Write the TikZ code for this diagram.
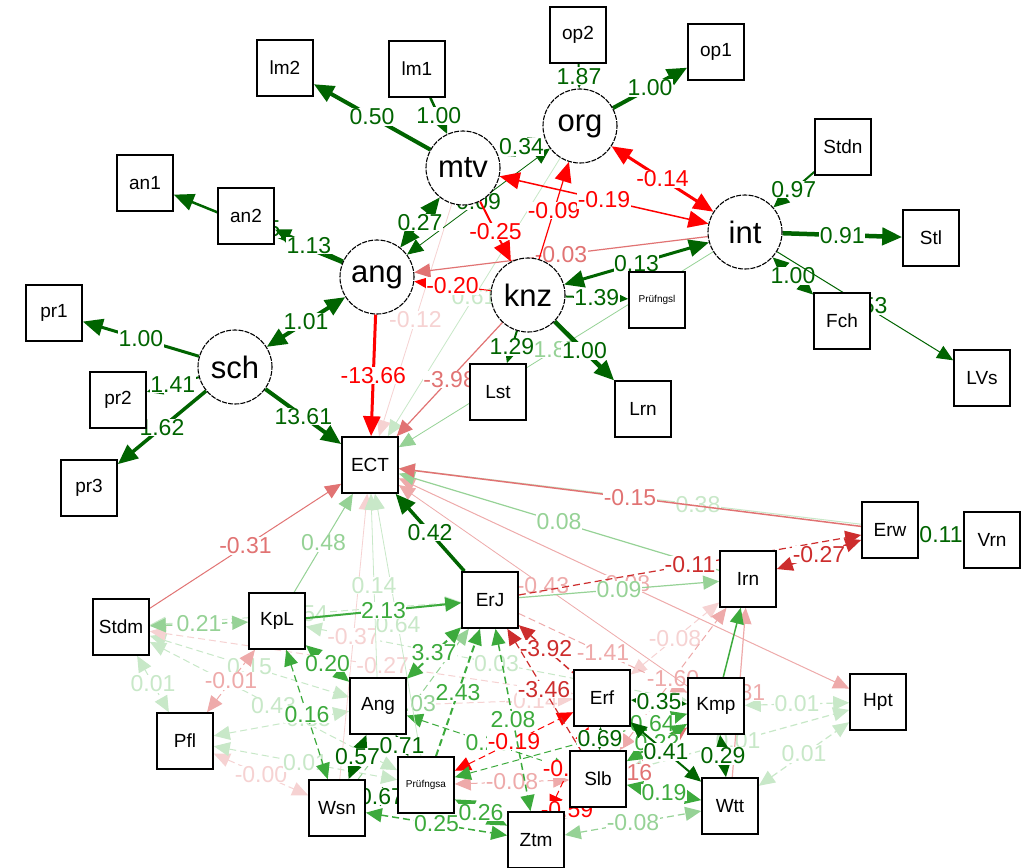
\documentclass[tikz,border=0pt]{standalone}
\usepackage{fontspec}
\setmainfont{Liberation Sans}
\usetikzlibrary{arrows.meta}
\pgfdeclarelayer{back}
\pgfdeclarelayer{edges}
\pgfsetlayers{back,edges,main}

\definecolor{dg}{RGB}{0,100,0}
\definecolor{mg}{RGB}{60,170,60}
\definecolor{lg}{RGB}{150,210,150}
\definecolor{vg}{RGB}{200,232,200}
\definecolor{rd}{RGB}{255,0,0}
\definecolor{dr}{RGB}{205,45,45}
\definecolor{pk}{RGB}{225,115,115}
\definecolor{lp}{RGB}{238,170,170}
\definecolor{vp}{RGB}{246,210,210}

\begin{document}
\begin{tikzpicture}[x=1pt,y=-1pt,
  lat/.style={circle, draw=black, line width=1.1pt, dash pattern=on 5pt off 1.2pt,
    minimum size=74pt, inner sep=0pt, fill=white, font=\fontsize{31}{32}\selectfont},
  man/.style={rectangle, draw=black, line width=1.6pt, minimum width=56pt,
    minimum height=56pt, inner sep=0pt, fill=white, font=\fontsize{19}{20}\selectfont},
  pbox/.style={man, font=\fontsize{10}{10}\selectfont},
  lb/.style={fill=white, inner sep=0.6pt, font=\fontsize{23}{24}\selectfont},
  hbig/.style={>={Triangle[length=20pt,width=17pt]}},
  hmed/.style={>={Triangle[length=16pt,width=14pt]}},
  hsml/.style={>={Triangle[length=13pt,width=11pt]}},
  dsh/.style={dash pattern=on 7pt off 4pt},
]
\begin{pgfonlayer}{back}
\fill[white] (0,0) rectangle (1030,867);
\end{pgfonlayer}
\useasboundingbox (0,0) rectangle (1030,867);

% latent variables
\node[lat] (mtv) at (463,168) {mtv};
\node[lat] (org) at (580,126) {org};
\node[lat] (int) at (745,232) {int};
\node[lat] (ang) at (377,277) {ang};
\node[lat] (knz) at (528,295) {knz};
\node[lat] (sch) at (235,367) {sch};

% indicators
\node[man] (lm2) at (285,68) {lm2};
\node[man] (lm1) at (417,69) {lm1};
\node[man] (op2) at (578,35) {op2};
\node[man] (op1) at (716,52) {op1};
\node[man] (an1) at (145,183) {an1};
\node[man] (an2) at (246,216) {an2};
\node[man] (Stdn) at (843,147) {Stdn};
\node[man] (Stl) at (931,238) {Stl};
\node[pbox] (Pl) at (657,300) {Prüfngsl};
\node[man] (Fch) at (842,321) {Fch};
\node[man] (LVs) at (982,378) {LVs};
\node[man] (pr1) at (54,313) {pr1};
\node[man] (pr2) at (118,400) {pr2};
\node[man] (pr3) at (89,488) {pr3};
\node[man] (Lst) at (498,392) {Lst};
\node[man] (Lrn) at (643,409) {Lrn};
\node[man] (ECT) at (370,465) {ECT};

% observed covariates
\node[man] (Erw) at (890,530) {Erw};
\node[man] (Vrn) at (992,540) {Vrn};
\node[man] (Irn) at (748,579) {Irn};
\node[man] (Stdm) at (121,627) {Stdm};
\node[man] (KpL) at (277,621) {KpL};
\node[man] (ErJ) at (490,600) {ErJ};
\node[man] (Ang) at (378,706) {Ang};
\node[man] (Erf) at (602,698) {Erf};
\node[man] (Kmp) at (716,706) {Kmp};
\node[man] (Hpt) at (878,702) {Hpt};
\node[man] (Pfl) at (185,741) {Pfl};
\node[pbox] (Pa) at (426,785) {Prüfngsa};
\node[man] (Slb) at (598,779) {Slb};
\node[man] (Wtt) at (730,806) {Wtt};
\node[man] (Wsn) at (337,808) {Wsn};
\node[man] (Ztm) at (536,840) {Ztm};

\begin{pgfonlayer}{edges}
% faint covariances among the covariates
\draw[vg, line width=1pt, dsh, hmed, <->] (Stdm) -- node[lb]{0.54} (ErJ);
\draw[vg, line width=1pt, dsh, hmed, <->] (Stdm) -- node[lb]{0.43} (Pa);
\draw[vg, line width=1pt, dsh, hmed, <->] (Stdm) -- node[lb]{0.15} (Ang);
\draw[vg, line width=1pt, dsh, hmed, <->] (Stdm) -- node[lb]{0.01} (Pfl);
\draw[vp, line width=1pt, dsh, hmed, <->] (Stdm) -- node[lb,pos=0.55]{-0.27} (Erf);
\draw[lp, line width=1pt, dsh, hmed, <->] (Pfl) -- node[lb]{-0.01} (KpL);
\draw[vg, line width=1pt, dsh, hmed, <->] (Pfl) -- node[lb,pos=0.7]{0.35} (Ang);
\draw[vp, line width=1pt, dsh, hmed, <->] (Pfl) -- node[lb]{-0.00} (Wsn);
\draw[vg, line width=1pt, dsh, hmed, <->] (Pfl) -- node[lb]{0.01} (Pa);
\draw[vg, line width=1pt, dsh, hmed, <->] (KpL) -- node[lb]{0.03} (Kmp);
\draw[vp, line width=1pt, dsh, hmed, <->] (Ang) -- node[lb,pos=0.75]{-0.14} (Erf);
\draw[lp, line width=1pt, dsh, hmed, <->] (Pa) -- node[lb]{-0.08} (Slb);
\draw[vp, line width=1pt, dsh, hmed, <->] (Erf) -- node[lb]{-0.08} (Irn);
\draw[vg, line width=1.2pt, dsh, hmed, <->] (Kmp) -- node[lb]{0.01} (Hpt);
\draw[vg, line width=1.2pt, dsh, hmed, <->] (Slb) -- node[lb]{0.01} (Hpt);
\draw[vg, line width=1.2pt, dsh, hmed, <->] (Wtt) -- node[lb]{0.01} (Hpt);
\draw[lg, line width=1.2pt, dsh, hmed, <->] (Ztm) -- node[lb]{-0.08} (Wtt);
\draw[lg, line width=1.5pt, dsh, hmed, <->] (Stdm) -- node[lb]{0.21} (KpL);
\draw[lg, line width=1pt, dsh, hmed, ->] (Wsn) -- node[lb]{0.03} (ErJ);
\draw[mg, line width=1pt, dsh, hmed, <->] (Ang) -- node[lb]{0.20} (Slb);
\draw[rd, line width=1pt, dsh, hmed, <->] (Pa) -- node[lb]{-0.19} (Erf);
\draw[rd, line width=1pt, dsh, hmed, <->] (Erf) -- node[lb]{-0.21} (Ztm);
\draw[pk, line width=1pt, dsh, hmed, <->] (Kmp) -- node[lb]{-0.16} (Ztm);
\draw[lp, line width=1pt, dsh, hmed, ->] (ErJ) -- node[lb]{-1.41} (Kmp);
\draw[lp, line width=1pt, dsh, hmed, <->] (Slb) -- node[lb]{-1.60} (Irn);
\draw[mg, line width=1pt, dsh, hmed, <->] (Pa) -- node[lb,pos=0.85]{0.64} (Kmp);

% regressions of ECT on the covariates
\draw[vp, line width=0.8pt, hmed, ->] (Wsn) -- node[lb]{-0.37} (ECT);
\draw[vg, line width=0.8pt, hmed, ->] (Pa) -- node[lb]{0.64} (ECT);
\draw[vg, line width=0.8pt, hmed, ->] (Ang) -- node[lb]{0.14} (ECT);
\draw[vg, line width=1pt, hmed, ->] (Vrn) -- node[lb,pos=0.47]{0.38} (ECT);
\draw[lp, line width=0.8pt, hmed, ->] (Kmp) -- node[lb]{-0.43} (ECT);
\draw[lp, line width=1pt, hmed, <->] (ECT) -- node[lb]{-0.08} (Hpt);
\draw[lg, line width=1pt, hmed, ->] (KpL) -- node[lb]{0.48} (ECT);
\draw[lg, line width=1.2pt, hmed, ->] (Irn) -- node[lb]{0.08} (ECT);
\draw[pk, line width=1pt, hmed, ->] (Stdm) -- node[lb]{-0.31} (ECT);
\draw[pk, line width=1.5pt, hmed, ->] (Erw) -- node[lb]{-0.15} (ECT);
\draw[dg, line width=3.5pt, hbig, ->] (ErJ) -- node[lb]{0.42} (ECT);

% stronger paths among the covariates
\draw[lp, line width=1.2pt, hmed, ->] (Wtt) -- node[lb]{-0.81} (Irn);
\draw[mg, line width=1.5pt, hmed, ->] (Kmp) -- (Irn);
\draw[lg, line width=1.2pt, hmed, ->] (ErJ) -- node[lb]{0.09} (Irn);
\draw[dr, line width=1.2pt, dsh, hmed, ->] (ErJ) -- node[lb]{-0.11} (Erw);
\draw[dr, line width=2pt, dsh, hmed, <->] (Irn) -- node[lb]{-0.27} (Erw);
\draw[dg, line width=1pt, hmed, <->] (Erw) -- node[lb]{0.11} (Vrn);
\draw[mg, line width=2pt, hmed, ->] (KpL) -- node[lb]{2.13} (ErJ);
\draw[mg, line width=1.5pt, dsh, hmed, <->] (KpL) -- node[lb]{0.20} (Ang);
\draw[mg, line width=1.2pt, dsh, hmed, <->] (KpL) -- node[lb]{0.16} (Wsn);
\draw[mg, line width=2pt, dsh, hmed, <->] (Ang) -- node[lb]{3.37} (ErJ);
\draw[mg, line width=2pt, dsh, hmed, ->] (Pa) -- node[lb]{2.43} (ErJ);
\draw[mg, line width=1.5pt, dsh, hmed, <->] (ErJ) -- node[lb]{2.08} (Ztm);
\draw[dr, line width=1.5pt, dsh, hmed, <-] (ErJ) -- node[lb]{-3.92} (Erf);
\draw[dr, line width=1.2pt, dsh, hmed, <-] (ErJ) -- node[lb]{-3.46} (Slb);
\draw[mg, line width=1.5pt, dsh, hmed, <->] (Wsn) -- node[lb]{0.25} (Ztm);
\draw[mg, line width=2pt, dsh, hbig, <->] (Pa) -- node[lb]{0.26} (Ztm);
\draw[rd, line width=1.5pt, dsh, hmed, <->] (Slb) -- node[lb]{-0.59} (Ztm);
\draw[mg, line width=2pt, dsh, hmed, <->] (Slb) -- node[lb]{0.22} (Kmp);
\draw[mg, line width=1.5pt, hmed, <->] (Slb) -- node[lb]{0.19} (Wtt);
\draw[dg, line width=2pt, hmed, <->] (Erf) -- node[lb]{0.41} (Wtt);
\draw[dg, line width=2pt, hmed, <->] (Kmp) -- node[lb]{0.29} (Wtt);
\draw[dg, line width=2.5pt, hmed, <->] (Erf) -- node[lb]{0.69} (Slb);
\draw[dg, line width=3pt, hmed, <->] (Erf) -- node[lb]{0.35} (Kmp);
\draw[dg, line width=3pt, hmed, <->] (Ang) -- node[lb]{0.57} (Wsn);
\draw[dg, line width=2pt, hmed, <->] (Ang) -- node[lb]{0.71} (Pa);
\draw[dg, line width=3pt, hbig, <->] (Pa) -- node[lb]{0.67} (Wsn);

% structural part
\draw[vg, line width=0.8pt, hmed, ->] (org) -- node[lb]{0.61} (ECT);
\draw[vp, line width=0.8pt, hmed, ->] (mtv) -- node[lb]{-0.12} (ECT);
\draw[lg, line width=0.8pt, hmed, ->] (int) -- node[lb]{1.87} (ECT);
\draw[pk, line width=1.2pt, hmed, ->] (knz) -- node[lb]{-3.98} (ECT);
\draw[rd, line width=3pt, hbig, ->] (ang) -- node[lb]{-13.66} (ECT);
\draw[dg, line width=4pt, hbig, ->] (sch) -- node[lb]{13.61} (ECT);
\draw[dg, line width=4pt, hbig, <->] (ang) -- node[lb]{1.01} (sch);
\draw[pk, line width=1.2pt, hmed, ->] (int) -- node[lb]{-0.03} (ang);
\draw[rd, line width=1pt, hsml, ->] (knz) -- node[lb]{-0.20} (ang);
\draw[dg, line width=0.8pt, hmed, <->] (ang) -- node[lb]{0.09} (org);
\draw[dg, line width=0.8pt, hmed, <->] (mtv) -- node[lb]{0.34} (org);
\draw[dg, line width=2pt, hbig, <->] (mtv) -- node[lb]{0.27} (ang);
\draw[rd, line width=2pt, hbig, ->] (mtv) -- node[lb]{-0.25} (knz);
\draw[rd, line width=1.2pt, hbig, ->] (knz) -- node[lb]{-0.09} (org);
\draw[rd, line width=1.5pt, hbig, <->] (mtv) -- node[lb]{-0.19} (int);
\draw[rd, line width=3pt, hbig, <->] (org) -- node[lb]{-0.14} (int);
\draw[dg, line width=3pt, hbig, <->] (int) -- node[lb]{0.13} (knz);

% measurement part
\draw[dg, line width=4pt, hbig, ->] (mtv) -- node[lb]{0.50} (lm2);
\draw[dg, line width=2.5pt, hmed, ->] (lm1) -- node[lb]{1.00} (mtv);
\draw[dg, line width=2pt, hmed, ->] (op2) -- node[lb]{1.87} (org);
\draw[dg, line width=4pt, hbig, ->] (org) -- node[lb]{1.00} (op1);
\draw[dg, line width=2.5pt, hbig, ->] (ang) -- node[lb]{0.55} (an1);
\draw[dg, line width=3.5pt, hmed, ->] (ang) -- node[lb]{1.13} (an2);
\draw[dg, line width=2pt, hmed, ->] (Stdn) -- node[lb]{0.97} (int);
\draw[dg, line width=4.5pt, hbig, ->] (int) -- node[lb]{0.91} (Stl);
\draw[dg, line width=2.5pt, hmed, <->] (int) -- node[lb]{1.00} (Fch);
\draw[dg, line width=1pt, hmed, ->] (int) -- node[lb]{0.53} (LVs);
\draw[dg, line width=2pt, hsml, ->] (knz) -- node[lb]{1.39} (Pl);
\draw[dg, line width=2pt, hmed, ->] (knz) -- node[lb]{1.29} (Lst);
\draw[dg, line width=4.5pt, hbig, ->] (knz) -- node[lb]{1.00} (Lrn);
\draw[dg, line width=3pt, hbig, ->] (sch) -- node[lb]{1.00} (pr1);
\draw[dg, line width=2pt, hmed, ->] (sch) -- node[lb]{1.41} (pr2);
\draw[dg, line width=3.5pt, hbig, ->] (sch) -- node[lb]{1.62} (pr3);
\end{pgfonlayer}
\end{tikzpicture}
\end{document}
